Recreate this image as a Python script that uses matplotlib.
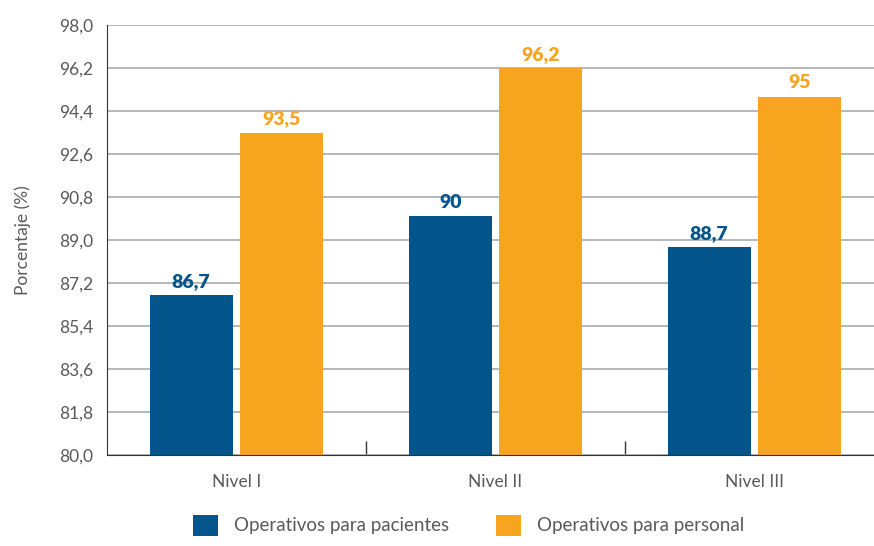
import numpy as np
import matplotlib.pyplot as plt
from matplotlib.patches import Patch

# ============================================================
# DATA
# ============================================================

categories = ["Nivel I", "Nivel II", "Nivel III"]
pacientes = [86.7, 90.0, 88.7]
personal = [93.5, 96.2, 95.0]
labels_pacientes = ["86,7", "90", "88,7"]
labels_personal = ["93,5", "96,2", "95"]
series_names = ["Operativos para pacientes", "Operativos para personal"]

yticks = [80.0, 81.8, 83.6, 85.4, 87.2, 89.0, 90.8, 92.6, 94.4, 96.2, 98.0]

blue = "#03558C"
orange = "#F7A51E"
text_gray = "#595959"

plt.rcParams['font.family'] = ['Lato', 'DejaVu Sans']

# ============================================================
# FIGURE
# ============================================================

fig = plt.figure(figsize=(8.74, 5.46), dpi=100)
ax = fig.add_axes([0.1224, 0.1667, 0.889, 0.7875])

x = np.arange(len(categories))
w = 0.32

ax.bar(x - 0.175, pacientes, width=w, color=blue, zorder=3)
ax.bar(x + 0.175, personal, width=w, color=orange, zorder=3)

for xi, v, t in zip(x, pacientes, labels_pacientes):
    ax.text(xi - 0.175, v + 0.22, t, ha='center', va='bottom',
            color=blue, fontsize=14, fontweight='heavy')

for xi, v, t in zip(x, personal, labels_personal):
    ax.text(xi + 0.175, v + 0.22, t, ha='center', va='bottom',
            color=orange, fontsize=14, fontweight='heavy')

# ============================================================
# AXES
# ============================================================

ax.set_xlim(-0.5, 2.5)
ax.set_ylim(80, 98)
ax.set_yticks(yticks)
ax.set_yticklabels([f"{t:.1f}".replace('.', ',') for t in yticks],
                   color=text_gray, fontsize=12.5)
ax.tick_params(axis='y', length=0, pad=10)

ax.set_xticks(x)
ax.set_xticklabels(categories, color=text_gray, fontsize=12.5)
ax.tick_params(axis='x', which='major', length=0, pad=14)
ax.set_xticks([0.5, 1.5], minor=True)
ax.tick_params(axis='x', which='minor', direction='in', length=10,
               color='#333333', width=1)

ax.yaxis.grid(True, color='#AAAAAA', linewidth=1.2, zorder=0)
ax.set_axisbelow(True)

for s in ['top', 'right']:
    ax.spines[s].set_visible(False)
ax.spines['left'].set_color('#333333')
ax.spines['bottom'].set_color('#333333')
ax.spines['bottom'].set_zorder(5)

ax.set_ylabel("Porcentaje (%)", color=text_gray, fontsize=12.5, labelpad=20)

# ============================================================
# LEGEND
# ============================================================

handles = [Patch(facecolor=blue), Patch(facecolor=orange)]
fig.legend(handles, series_names, loc='lower center',
           bbox_to_anchor=(0.536, -0.012), ncol=2, frameon=False,
           fontsize=13.5, labelcolor=text_gray, handlelength=1.35,
           handleheight=1.35, columnspacing=2.5, handletextpad=0.85)

plt.savefig("out.png", dpi=100)
